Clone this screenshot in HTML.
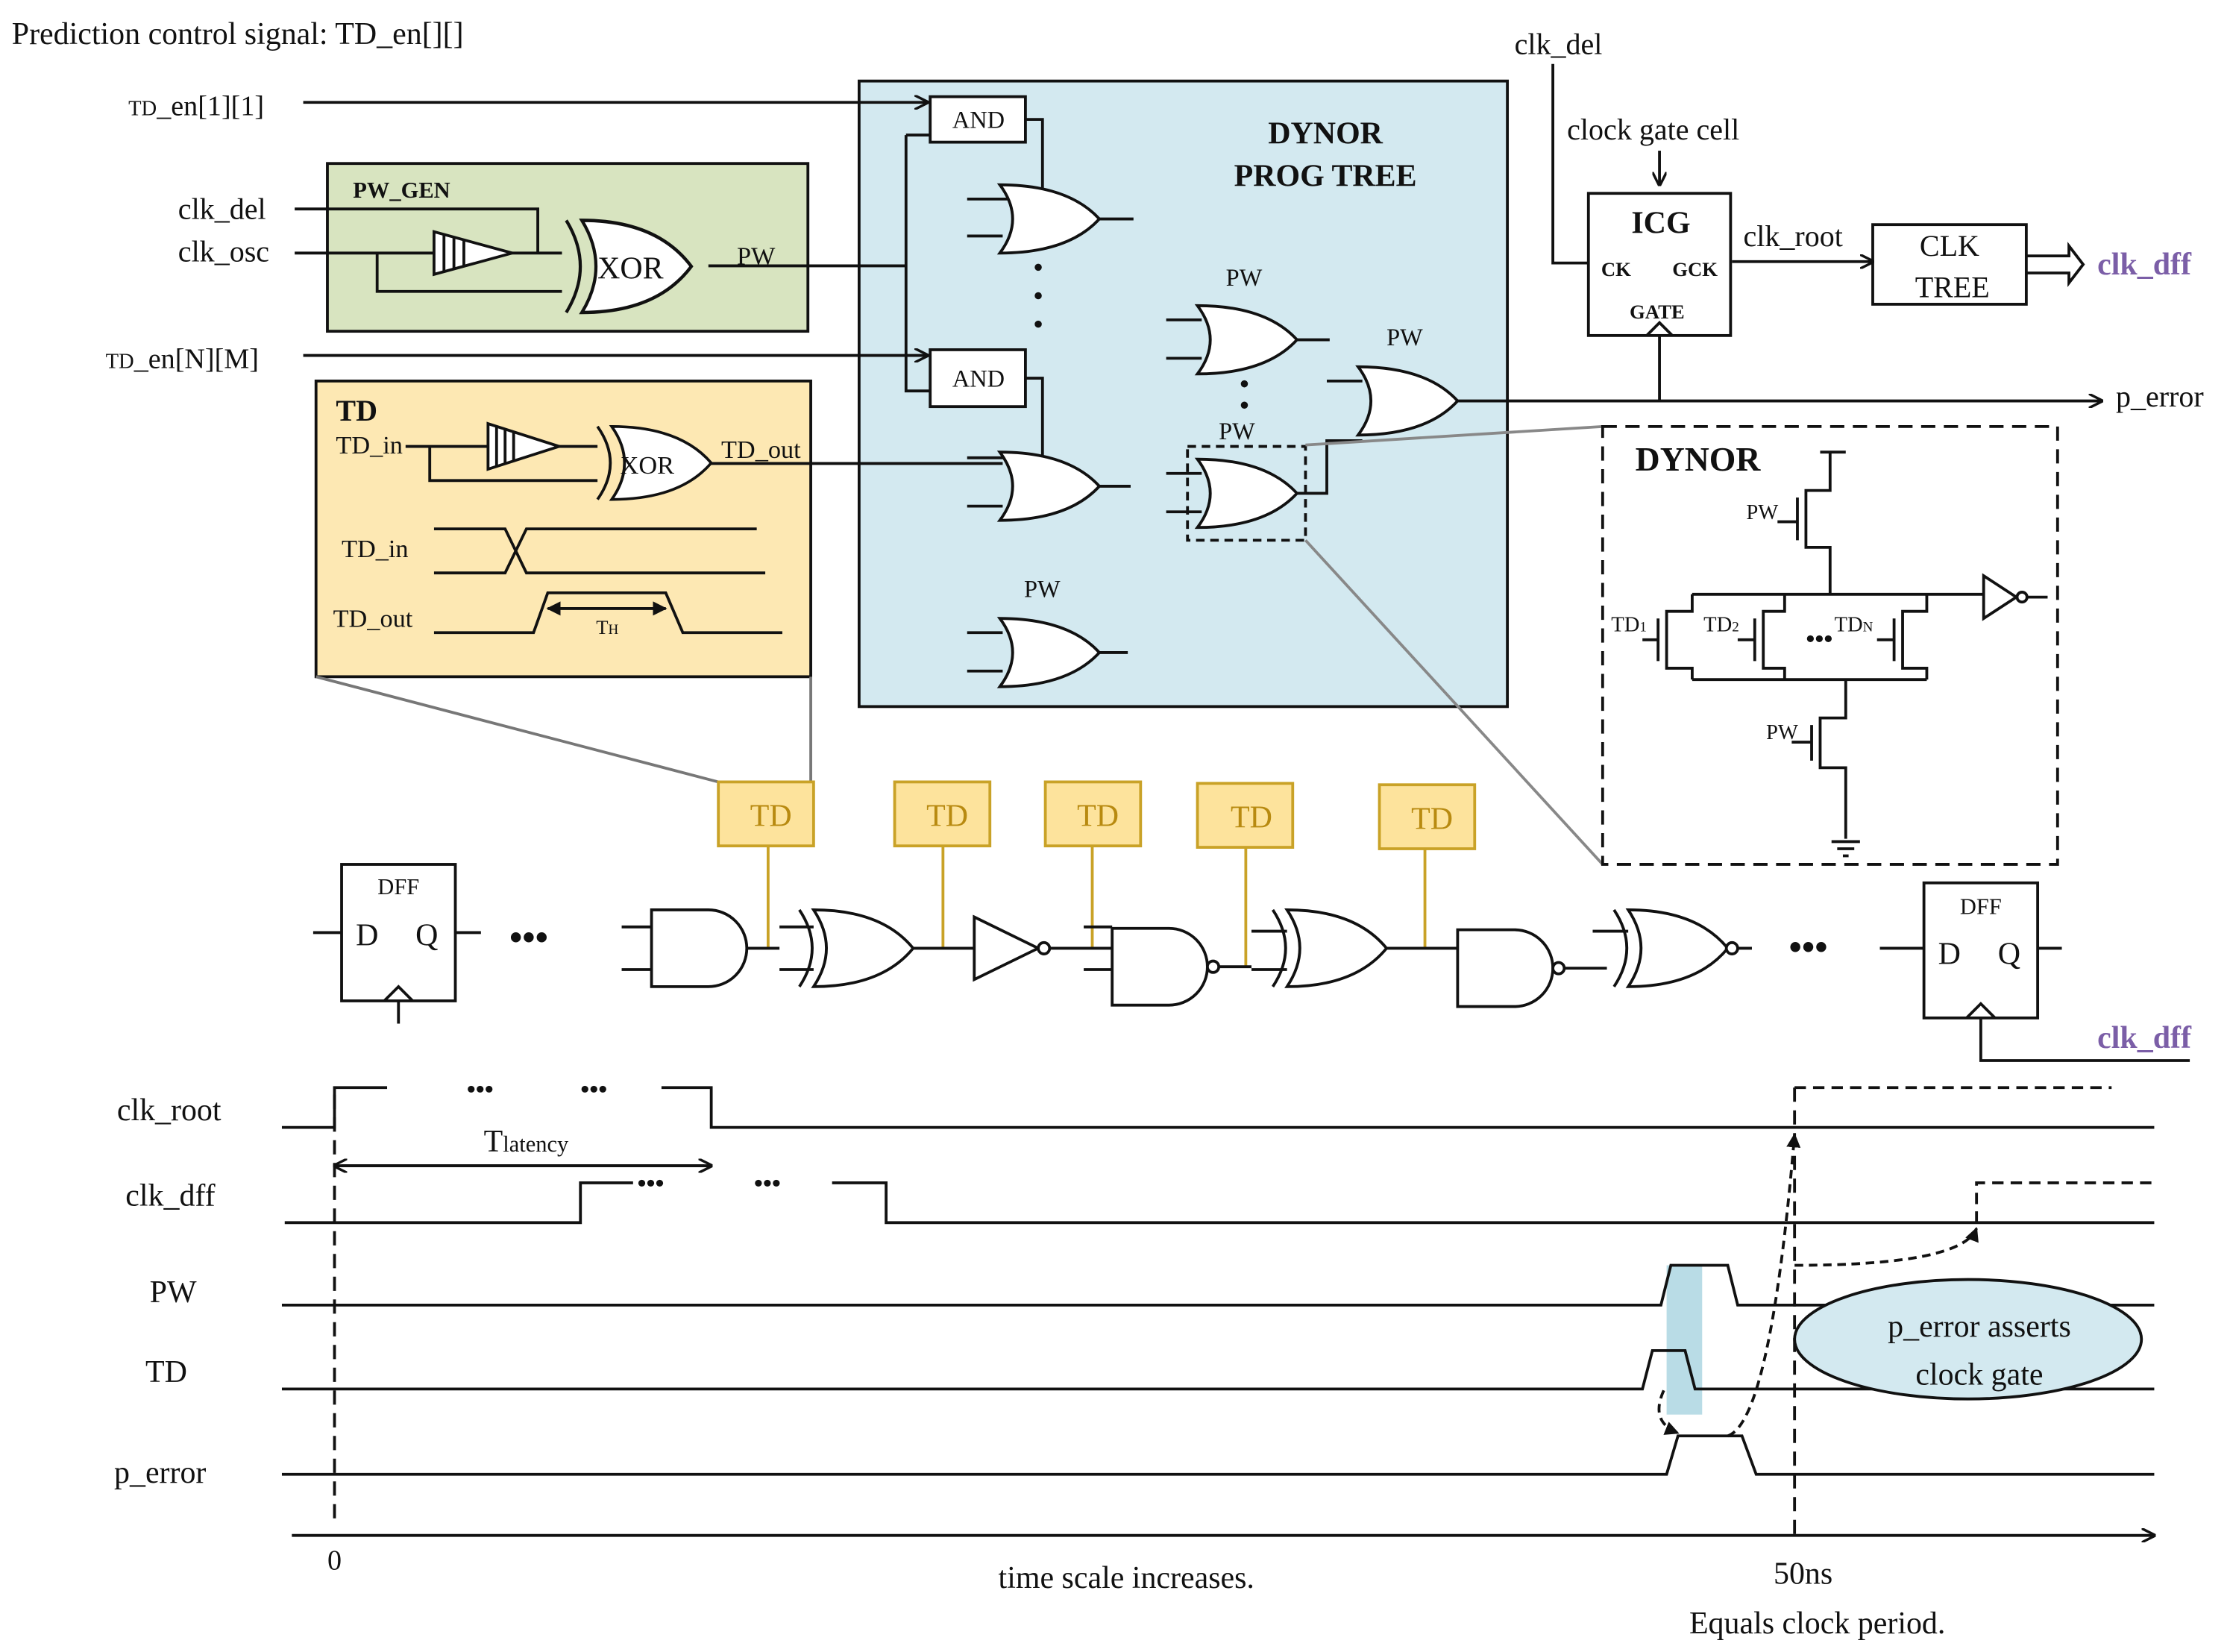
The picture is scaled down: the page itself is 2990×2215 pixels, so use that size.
<!DOCTYPE html>
<html><head><meta charset="utf-8"><style>
html,body{margin:0;padding:0;background:#fff}
svg{display:block}
text{font-family:"Liberation Serif",serif;fill:#111}
</style></head><body>
<svg width="2990" height="2215" viewBox="0 0 1568 1162" xmlns="http://www.w3.org/2000/svg">
<defs>
<marker id="ar" markerWidth="10" markerHeight="10" refX="9" refY="5" orient="auto" markerUnits="userSpaceOnUse"><path d="M0,0 L10,5 L0,10" fill="none" stroke="#111" stroke-width="1.8"/></marker>
<marker id="af" markerWidth="10" markerHeight="10" refX="9" refY="5" orient="auto" markerUnits="userSpaceOnUse"><path d="M0,0 L10,5 L0,10 z" fill="#111"/></marker>
<g id="or"><path d="M0,0 Q18,24 0,48 Q48,48 70,24 Q48,0 0,0 z" fill="#fff" stroke="#111" stroke-width="2"/></g>
<g id="and"><path d="M0,0 h40 a27,27 0 0 1 0,54 h-40 z" fill="#fff" stroke="#111" stroke-width="2"/></g>
<g id="xor"><path d="M10,0 Q28,27 10,54 Q58,54 80,27 Q58,0 10,0 z" fill="#fff" stroke="#111" stroke-width="2"/><path d="M0,0 Q18,27 0,54" fill="none" stroke="#111" stroke-width="2"/></g>
</defs>
<g stroke="#111" stroke-width="2" fill="none">

<!-- top-left -->
<text x="8" y="31" font-size="22" stroke="none">Prediction control signal: TD_en[][]</text>
<text x="90" y="81" font-size="20" stroke="none"><tspan font-size="15">TD</tspan>_en[1][1]</text>
<text x="74" y="259" font-size="20" stroke="none"><tspan font-size="15">TD</tspan>_en[N][M]</text>

<!-- PW_GEN -->
<rect x="230" y="115" width="338" height="118" fill="#d8e4c0"/>
<text x="248" y="139" font-size="16" font-weight="bold" stroke="none">PW_GEN</text>
<text x="125" y="154" font-size="21" stroke="none">clk_del</text>
<text x="125" y="184" font-size="21" stroke="none">clk_osc</text>
<path d="M207,147 H378 V178"/>
<path d="M207,178 H305"/>
<path d="M265,178 V205 H395"/>
<path d="M305,163 L360,178 L305,193 z" fill="#fff"/>
<path d="M312,165 V191 M319,167 V189 M326,169 V187"/>
<line x1="360" y1="178" x2="395" y2="178"/>
<g transform="translate(398,155) scale(1.1,1.2)"><use href="#xor"/></g>
<text x="420" y="196" font-size="22" stroke="none">XOR</text>
<text x="518" y="186" font-size="18" stroke="none">PW</text>

<!-- TD box -->
<rect x="222" y="268" width="348" height="208" fill="#fde8b3"/>
<text x="236" y="296" font-size="21" font-weight="bold" stroke="none">TD</text>
<text x="236" y="319" font-size="18" stroke="none">TD_in</text>
<path d="M285,314 H345 M302,314 V338 H420"/>
<path d="M343,298 L393,314 L343,330 z" fill="#fff"/>
<path d="M349,300 V328 M355,302 V326 M361,304 V324"/>
<path d="M393,314 H420"/>
<g transform="translate(420,300) scale(1,0.95)"><use href="#xor"/></g>
<text x="436" y="333" font-size="18" stroke="none">XOR</text>
<text x="507" y="322" font-size="18" stroke="none">TD_out</text>
<text x="240" y="392" font-size="18" stroke="none">TD_in</text>
<path d="M305,372 H355 L370,403 H538 M305,403 H355 L370,372 H532"/>
<text x="234" y="441" font-size="18" stroke="none">TD_out</text>
<path d="M305,445 H375 L385,417 H468 L480,445 H550"/>
<path d="M385,428 H468" marker-end="url(#af)"/>
<path d="M468,428 H385" marker-end="url(#af)"/>
<text x="419" y="446" font-size="14" stroke="none">T<tspan font-size="10">H</tspan></text>
<line x1="222" y1="476" x2="505" y2="550" stroke="#777"/>
<line x1="570" y1="476" x2="570" y2="550" stroke="#777"/>

<!-- blue box -->
<rect x="604" y="57" width="456" height="440" fill="#d3e9f0"/>
<line x1="213" y1="72" x2="652" y2="72" marker-end="url(#ar)"/>
<line x1="213" y1="250" x2="652" y2="250" marker-end="url(#ar)"/>
<line x1="498" y1="187" x2="637" y2="187"/>
<text x="932" y="101" font-size="22" font-weight="bold" text-anchor="middle" stroke="none">DYNOR</text>
<text x="932" y="131" font-size="22" font-weight="bold" text-anchor="middle" stroke="none">PROG TREE</text>
<rect x="654" y="68" width="67" height="32" fill="#fff"/>
<text x="688" y="90" font-size="17" text-anchor="middle" stroke="none">AND</text>
<rect x="654" y="246" width="67" height="40" fill="#fff"/>
<text x="688" y="272" font-size="17" text-anchor="middle" stroke="none">AND</text>
<path d="M637,95 V275 H654 M637,95 H654"/>
<path d="M721,84 H733 V140 H703 M680,140 H703 M680,166 H705"/>
<path d="M721,266 H733 V322 H703 M680,356 H705 M680,322 H705"/>
<path d="M500,326 H705"/>
<g transform="translate(703,130)"><use href="#or"/></g>
<line x1="773" y1="154" x2="797" y2="154"/>
<g transform="translate(703,318)"><use href="#or"/></g>
<line x1="773" y1="342" x2="795" y2="342"/>
<g transform="translate(703,435)"><use href="#or"/></g>
<line x1="773" y1="459" x2="793" y2="459"/>
<path d="M680,445 H705 M680,472 H705"/>
<text x="720" y="420" font-size="17" stroke="none">PW</text>
<circle cx="730" cy="188" r="1.5" fill="#111"/><circle cx="730" cy="208" r="1.5" fill="#111"/><circle cx="730" cy="228" r="1.5" fill="#111"/>
<g transform="translate(842,215)"><use href="#or"/></g>
<path d="M820,225 H845 M820,252 H845 M912,239 H935"/>
<text x="862" y="201" font-size="17" stroke="none">PW</text>
<circle cx="875" cy="270" r="1.5" fill="#111"/><circle cx="875" cy="285" r="1.5" fill="#111"/>
<g transform="translate(842,323)"><use href="#or"/></g>
<path d="M820,333 H845 M820,360 H845 M912,347 H933 V310 H958"/>
<text x="857" y="309" font-size="17" stroke="none">PW</text>
<rect x="835" y="314" width="83" height="66" stroke-dasharray="6,4"/>
<g transform="translate(955,258)"><use href="#or"/></g>
<path d="M933,268 H958"/>
<text x="975" y="243" font-size="17" stroke="none">PW</text>
<line x1="1025" y1="282" x2="1478" y2="282" marker-end="url(#ar)"/>
<text x="1488" y="286" font-size="21" stroke="none">p_error</text>
<line x1="918" y1="313" x2="1127" y2="300" stroke="#888"/>
<line x1="918" y1="380" x2="1127" y2="608" stroke="#888"/>

<!-- ICG/CLK tree -->
<text x="1065" y="38" font-size="21" stroke="none">clk_del</text>
<path d="M1092,45 V185 H1117"/>
<text x="1102" y="98" font-size="21" stroke="none">clock gate cell</text>
<line x1="1167" y1="106" x2="1167" y2="130" marker-end="url(#ar)"/>
<rect x="1117" y="136" width="100" height="100"/>
<text x="1168" y="164" font-size="22" font-weight="bold" text-anchor="middle" stroke="none">ICG</text>
<text x="1126" y="194" font-size="14" font-weight="bold" stroke="none">CK</text>
<text x="1176" y="194" font-size="14" font-weight="bold" stroke="none">GCK</text>
<text x="1146" y="224" font-size="14" font-weight="bold" stroke="none">GATE</text>
<path d="M1158,236 L1167,227 L1176,236"/>
<line x1="1167" y1="236" x2="1167" y2="282"/>
<text x="1226" y="173" font-size="21" stroke="none">clk_root</text>
<line x1="1218" y1="184" x2="1317" y2="184" marker-end="url(#ar)"/>
<rect x="1317" y="158" width="108" height="56"/>
<text x="1371" y="180" font-size="21" text-anchor="middle" stroke="none">CLK</text>
<text x="1373" y="209" font-size="21" text-anchor="middle" stroke="none">TREE</text>
<path d="M1425,180 H1455 V173 L1465,186 L1455,199 V192 H1425"/>
<text x="1475" y="193" font-size="22" font-weight="bold" stroke="none" style="fill:#7b5ea7">clk_dff</text>

<!-- DYNOR -->
<rect x="1127" y="300" width="320" height="308" stroke-dasharray="10,6"/>
<text x="1150" y="331" font-size="24" font-weight="bold" stroke="none">DYNOR</text>
<path d="M1280,318 H1298 M1287,318 V345 H1270 V385 H1287 V418 M1264,350 V380 M1250,367 H1264"/>
<text x="1228" y="365" font-size="15" stroke="none">PW</text>
<path d="M1190,418 H1355 M1355,418 H1395"/>
<path d="M1395,405 L1418,420 L1395,435 z" fill="#fff"/><circle cx="1422" cy="420" r="3.5" fill="#fff"/>
<line x1="1426" y1="420" x2="1440" y2="420"/>
<path d="M1190,418 V430 H1172 V470 H1190 V478 M1166,435 V465 M1155,450 H1166"/>
<path d="M1255,418 V430 H1240 V470 H1255 V478 M1234,435 V465 M1222,450 H1234"/>
<path d="M1355,418 V430 H1338 V470 H1355 V478 M1332,435 V465 M1320,450 H1332"/>
<text x="1133" y="444" font-size="15" stroke="none">TD<tspan font-size="10">1</tspan></text>
<text x="1198" y="444" font-size="15" stroke="none">TD<tspan font-size="10">2</tspan></text>
<text x="1290" y="444" font-size="15" stroke="none">TD<tspan font-size="10">N</tspan></text>
<text x="1270" y="455" font-size="18" font-weight="bold" stroke="none">•••</text>
<path d="M1190,478 H1355 M1298,478 V505 H1280 V540 H1298 V590 M1274,510 V535 M1260,522 H1274"/>
<text x="1242" y="520" font-size="15" stroke="none">PW</text>
<path d="M1288,592 H1308 M1292,597 H1304 M1296,602 H1300"/>

<!-- TD tags -->
<g fill="#fde39c" stroke="#c9a227">
<rect x="505" y="550" width="67" height="45"/><rect x="629" y="550" width="67" height="45"/><rect x="735" y="550" width="67" height="45"/><rect x="842" y="551" width="67" height="45"/><rect x="970" y="552" width="67" height="45"/>
</g>
<g font-size="22" text-anchor="middle" stroke="none">
<text x="542" y="581" style="fill:#b88a10">TD</text><text x="666" y="581" style="fill:#b88a10">TD</text><text x="772" y="581" style="fill:#b88a10">TD</text><text x="880" y="582" style="fill:#b88a10">TD</text><text x="1007" y="583" style="fill:#b88a10">TD</text>
</g>
<g stroke="#c9a227"><line x1="540" y1="595" x2="540" y2="666"/><line x1="663" y1="595" x2="663" y2="666"/><line x1="768" y1="595" x2="768" y2="666"/><line x1="876" y1="596" x2="876" y2="680"/><line x1="1002" y1="597" x2="1002" y2="666"/></g>

<!-- gate chain -->
<rect x="240" y="608" width="80" height="96"/>
<text x="280" y="629" font-size="16" text-anchor="middle" stroke="none">DFF</text>
<text x="250" y="665" font-size="22" stroke="none">D</text><text x="292" y="665" font-size="22" stroke="none">Q</text>
<path d="M270,704 L280,694 L290,704 M280,704 V720 M220,656 H240 M320,656 H338"/>
<text x="358" y="668" font-size="26" font-weight="bold" stroke="none">•••</text>
<path d="M437,652 H460 M437,682 H460"/>
<g transform="translate(458,640)"><use href="#and"/></g>
<line x1="525" y1="667" x2="548" y2="667"/>
<path d="M548,652 H572 M548,682 H572"/>
<g transform="translate(562,640)"><use href="#xor"/></g>
<line x1="642" y1="667" x2="685" y2="667"/>
<path d="M685,645 L730,667 L685,689 z" fill="#fff"/><circle cx="734" cy="667" r="4" fill="#fff"/>
<path d="M738,667 H782 M762,652 H782 M762,682 H782"/>
<g transform="translate(782,653)"><use href="#and"/></g>
<circle cx="853" cy="680" r="4" fill="#fff"/>
<path d="M857,680 H880 M880,655 H905 M880,682 H905"/>
<g transform="translate(895,640)"><use href="#xor"/></g>
<line x1="975" y1="667" x2="1025" y2="667"/>
<g transform="translate(1025,654)"><use href="#and"/></g>
<circle cx="1096" cy="681" r="4" fill="#fff"/>
<path d="M1100,681 H1130 M1120,655 H1145"/>
<g transform="translate(1135,640)"><use href="#xor"/></g>
<circle cx="1218" cy="667" r="4" fill="#fff"/>
<path d="M1222,667 H1232"/>
<text x="1258" y="675" font-size="26" font-weight="bold" stroke="none">•••</text>
<path d="M1322,667 H1353"/>
<rect x="1353" y="621" width="80" height="95"/>
<text x="1393" y="643" font-size="16" text-anchor="middle" stroke="none">DFF</text>
<text x="1363" y="678" font-size="22" stroke="none">D</text><text x="1405" y="678" font-size="22" stroke="none">Q</text>
<path d="M1383,716 L1393,706 L1403,716 M1393,716 V746 H1540 M1433,667 H1450"/>
<text x="1475" y="737" font-size="22" font-weight="bold" stroke="none" style="fill:#7b5ea7">clk_dff</text>

<!-- timing -->
<text x="82" y="788" font-size="22" stroke="none">clk_root</text>
<text x="88" y="848" font-size="22" stroke="none">clk_dff</text>
<text x="105" y="916" font-size="22" stroke="none">PW</text>
<text x="102" y="972" font-size="22" stroke="none">TD</text>
<text x="80" y="1043" font-size="22" stroke="none">p_error</text>
<path d="M198,793 H235 V765 H272 M465,765 H500 V793 H1515"/>
<text x="328" y="772" font-size="18" font-weight="bold" stroke="none">•••</text>
<text x="408" y="772" font-size="18" font-weight="bold" stroke="none">•••</text>
<path d="M1262,765 H1485" stroke-dasharray="8,5"/>
<line x1="240" y1="820" x2="500" y2="820" marker-end="url(#ar)"/>
<line x1="495" y1="820" x2="235" y2="820" marker-end="url(#ar)"/>
<text x="340" y="810" font-size="22" stroke="none">T<tspan font-size="16">latency</tspan></text>
<path d="M200,860 H408 V832 H445 M585,832 H623 V860 H1515"/>
<text x="448" y="838" font-size="18" font-weight="bold" stroke="none">•••</text>
<text x="530" y="838" font-size="18" font-weight="bold" stroke="none">•••</text>
<path d="M1390,860 V832 H1515" stroke-dasharray="8,5"/>
<rect x="1172" y="890" width="25" height="105" fill="#b9dce6" stroke="none"/>
<path d="M198,918 H1168 L1175,890 H1215 L1222,918 H1515"/>
<path d="M198,977 H1155 L1162,950 H1185 L1192,977 H1515"/>
<path d="M198,1037 H1172 L1180,1010 H1225 L1235,1037 H1515"/>
<path d="M235,770 V1072" stroke-dasharray="10,6"/>
<path d="M1262,765 V1080" stroke-dasharray="10,6"/>
<path d="M1170,978 Q1160,1000 1180,1008" stroke-dasharray="6,4" marker-end="url(#af)"/>
<path d="M1215,1010 Q1245,1000 1262,798" stroke-dasharray="6,4" marker-end="url(#af)"/>
<path d="M1262,890 Q1380,890 1390,864" stroke-dasharray="6,4" marker-end="url(#af)"/>
<ellipse cx="1384" cy="942" rx="122" ry="42" fill="#d3e9f0"/>
<text x="1392" y="940" font-size="22" text-anchor="middle" stroke="none">p_error asserts</text>
<text x="1392" y="974" font-size="22" text-anchor="middle" stroke="none">clock gate</text>
<line x1="205" y1="1080" x2="1515" y2="1080" marker-end="url(#ar)"/>
<text x="230" y="1104" font-size="20" stroke="none">0</text>
<text x="792" y="1117" font-size="22" text-anchor="middle" stroke="none">time scale increases.</text>
<text x="1268" y="1114" font-size="22" text-anchor="middle" stroke="none">50ns</text>
<text x="1278" y="1149" font-size="22" text-anchor="middle" stroke="none">Equals clock period.</text>
</g>
</svg>
</body></html>
